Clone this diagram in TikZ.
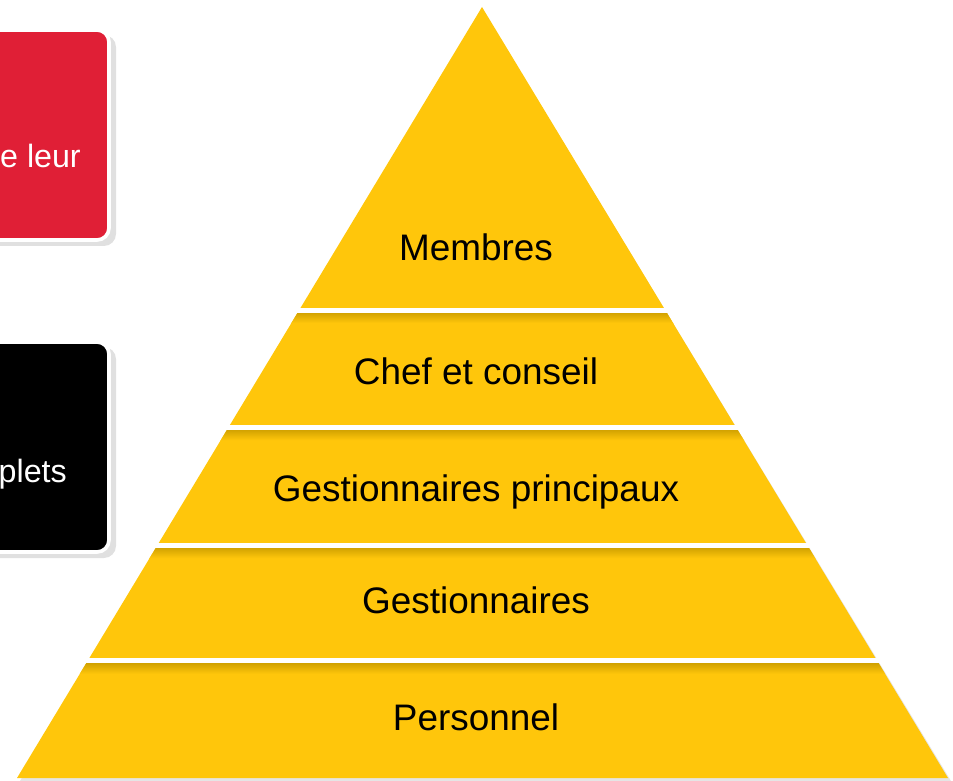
\documentclass[tikz,border=0pt]{standalone}
\usepackage{fontspec}
\setmainfont{Liberation Sans}
\usetikzlibrary{calc}
\definecolor{pyryellow}{HTML}{FFC60B}
\definecolor{pyrshadow}{HTML}{CFA000}
\definecolor{boxred}{HTML}{E01F36}

\begin{document}
\begin{tikzpicture}[x=0.3mm, y=-0.3mm,
        layer/.style = {anchor=base, inner sep=0pt, font=\fontsize{31.5}{36}\selectfont},
        boxtext/.style = {anchor=base east, inner sep=0pt, text=white, font=\fontsize{27.5}{32}\selectfont},
        card/.style = {rounded corners=3.6mm, draw=white, line width=1.1mm}]
            \useasboundingbox (0,0) rectangle (953,781);
            \clip (0,0) rectangle (953,781);

            % Side cards
            \fill[black, opacity=0.12, rounded corners=3.6mm] (-100,35) rectangle (116,246);
            \filldraw[card, fill=boxred] (-100,30) rectangle (109,240);
            \node[boxtext] (red) at (81,168) {e leur};

            \fill[black, opacity=0.12, rounded corners=3.6mm] (-100,347) rectangle (116,558);
            \filldraw[card, fill=black] (-100,342) rectangle (109,552);
            \node[boxtext] (blk) at (67,482) {plets};

            % Pyramid
            \coordinate (top) at (482,7);
            \coordinate (bl) at (17,778);
            \coordinate (br) at (948,778);
            \fill[black, opacity=0.10] (483,10) -- (951,781) -- (20,781) -- cycle;
            \fill[pyryellow] (top) -- (br) -- (bl) -- cycle;

            % Separators
            \foreach \t/\name in {0.393/s1, 0.545/s2, 0.698/s3, 0.848/s4} {
                \coordinate (\name l) at ($(top)!\t!(bl)$);
                \coordinate (\name r) at ($(top)!\t!(br)$);
                \begin{scope}
                    \clip (top) -- (br) -- (bl) -- cycle;
                    \shade[top color=pyrshadow, bottom color=pyryellow]
                        ($(\name l)+(-20,2)$) rectangle ($(\name r)+(20,13)$);
                \end{scope}
                \draw[white, line width=1.5mm] ($(\name l)+(-3,0)$) -- ($(\name r)+(8,0)$);
            }

            % Nodes
            \node[layer] (membres) at (476,261) {Membres};
            \node[layer] (chef) at (476,384) {Chef et conseil};
            \node[layer] (gp) at (476,501) {Gestionnaires principaux};
            \node[layer] (gest) at (476,613) {Gestionnaires};
            \node[layer] (pers) at (476,730) {Personnel};
        \end{tikzpicture}
\end{document}
